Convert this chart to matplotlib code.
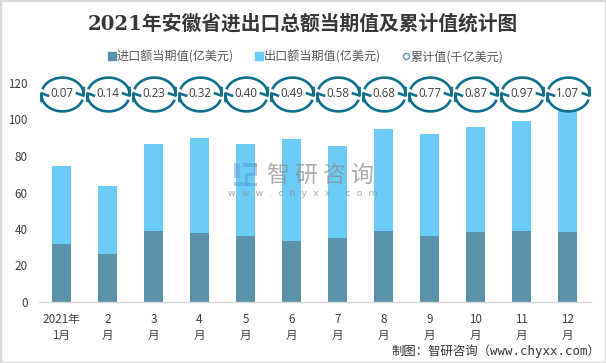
import numpy as np
import matplotlib
matplotlib.use("Agg")
import matplotlib.pyplot as plt
from matplotlib.path import Path
from matplotlib.patches import Rectangle
from matplotlib.lines import Line2D

categories = ["2021年\n1月", "2\n月", "3\n月", "4\n月", "5\n月", "6\n月", "7\n月", "8\n月", "9\n月", "10\n月", "11\n月", "12\n月"]
imports = [31.8, 26.3, 38.9, 37.8, 36.2, 33.4, 35.0, 38.9, 36.2, 38.4, 38.9, 38.4]
exports = [42.7, 37.3, 47.7, 52.1, 50.4, 55.9, 50.5, 55.9, 55.9, 57.5, 60.3, 67.6]
cumulative = [0.07, 0.14, 0.23, 0.32, 0.40, 0.49, 0.58, 0.68, 0.77, 0.87, 0.97, 1.07]
yticks = [0, 20, 40, 60, 80, 100, 120]
marker_level = 114

plt.rcParams["font.family"] = ["Noto Sans CJK SC", "DejaVu Sans"]

W, H = 606, 363
fig = plt.figure(figsize=(W / 100, H / 100), dpi=100, facecolor="white")
ax = fig.add_axes([38.5 / W, 1 - 302 / H, 552 / W, 219 / H])
fig.add_artist(Rectangle((0, 0), 1, 1, transform=fig.transFigure, fill=False, ec="#d9d9d9", lw=2.4))

x = np.arange(len(categories))
c_imp, c_exp, c_ring = "#5c92a9", "#6bcdf7", "#12708f"
ax.bar(x, imports, width=0.413, color=c_imp, zorder=2)
ax.bar(x, exports, width=0.413, bottom=imports, color=c_exp, zorder=2)

RY = 0.8


def ring_path():
    verts, codes = [], []

    def arc(a0, a1, n=40):
        t = np.radians(np.linspace(a0, a1, n))
        pts = np.c_[np.cos(t), RY * np.sin(t)]
        verts.extend(pts)
        codes.extend([Path.MOVETO] + [Path.LINETO] * (n - 1))
        return pts

    top = arc(162, -4)
    bot = arc(342, 176)
    for pts, s in ((top, 1), (bot, -1)):
        tip = pts[-1]
        verts.extend([[tip[0] - s * 0.37, tip[1] + s * 0.13], tip, [tip[0] + s * 0.0, tip[1] + s * 0.42]])
        codes.extend([Path.MOVETO, Path.LINETO, Path.LINETO])
    return Path(np.array(verts), codes)


def disc_path():
    t = np.radians(np.linspace(0, 360, 60))
    return Path(np.c_[np.cos(t), RY * np.sin(t)], closed=True)


ax.plot(x, [marker_level] * len(x), ls="none", marker=disc_path(), ms=30, mfc="white", mec="none",
        zorder=3, clip_on=False)
ax.plot(x, [marker_level] * len(x), ls="none", marker=ring_path(), ms=30.4, mfc="none", mec=c_ring,
        mew=1.9, zorder=4, clip_on=False)
for xi, v in zip(x, cumulative):
    ax.text(xi, marker_level, f"{v:.2f}", ha="center", va="center", fontsize=8.3, color="#404040",
            zorder=5, family=["Open Sans", "DejaVu Sans"])

ax.set_xlim(-0.5, 11.5)
ax.set_ylim(0, 120)
ax.set_yticks(yticks)
ax.set_xticks(x)
ax.set_xticklabels(categories, linespacing=1.25)
ax.tick_params(axis="both", length=0, labelsize=8.4, labelcolor="#404040")
ax.tick_params(axis="x", pad=8)
ax.tick_params(axis="y", pad=8)
for s in ("top", "right", "left"):
    ax.spines[s].set_visible(False)
ax.spines["bottom"].set_color("#d9d9d9")
ax.spines["bottom"].set_linewidth(1.0)

fig.text(303 / W, 1 - 24 / H, "2021年安徽省进出口总额当期值及累计值统计图", ha="center", va="center",
         fontsize=14.2, fontweight="bold", color="#383838", family=["DejaVu Serif", "Noto Sans CJK SC"])

handles = [
    Line2D([], [], ls="none", marker="s", ms=5.5, color=c_imp),
    Line2D([], [], ls="none", marker="s", ms=5.5, color=c_exp),
    Line2D([], [], ls="none", marker="o", ms=4.4, mfc="white", mec=c_imp, mew=1),
]
fig.legend(handles, ["进口额当期值(亿美元)", "出口额当期值(亿美元)", "累计值(千亿美元)"], ncol=3,
           loc="center", bbox_to_anchor=(305.5 / W, 1 - 57 / H), frameon=False, fontsize=8.7,
           labelcolor="#595959", handletextpad=0.0, columnspacing=1.75, handlelength=0.7)

# watermark
fig.text(320 / W, 1 - 175 / H, "智 研 咨 询", ha="center", va="center", fontsize=16.5, color="#8c8c8c",
         alpha=0.7, zorder=6)
fig.text(303 / W, 1 - 194 / H, "w  w  w  .  c  h  y  x  x  .  c  o  m", ha="center", va="center", fontsize=6.8,
         color="#8c8c8c", alpha=0.7, family=["DejaVu Sans"], zorder=6)
logo_blocks = [
    (234, 163, 6, 15), (234, 182, 15, 4), (243, 163, 14, 4),
    (254, 163, 3, 10), (245, 173, 12, 3), (245, 176, 3, 7), (245, 183, 12, 3),
]
for px, py, pw, ph in logo_blocks:
    fig.add_artist(Rectangle((px / W, 1 - (py + ph) / H), pw / W, ph / H, transform=fig.transFigure,
                             fc="#5b9bd5", ec="none", alpha=0.5, zorder=6))

fig.text(600 / W, 1 - 351 / H, "制图：智研咨询（www.chyxx.com）", ha="right", va="center", fontsize=8.9,
         color="#333333", family=["DejaVu Sans Mono", "Noto Sans CJK SC"])

fig.savefig("out.png", dpi=100)
